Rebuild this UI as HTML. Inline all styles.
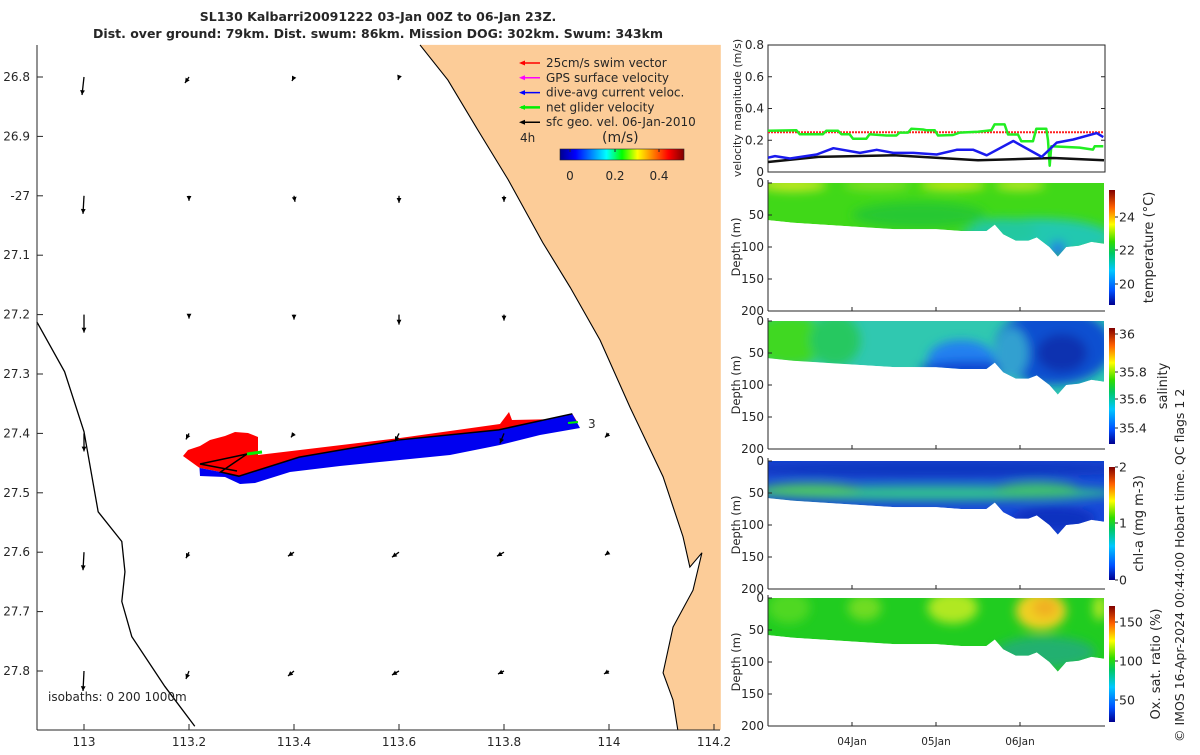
<!DOCTYPE html>
<html><head><meta charset="utf-8"><style>
body{margin:0;background:#fff;width:1200px;height:750px;overflow:hidden;font-family:"Liberation Sans",sans-serif}
svg text{font-family:"DejaVu Sans","Liberation Sans",sans-serif;fill:#262626}
</style></head><body>
<svg id="s" width="1200" height="750" xmlns="http://www.w3.org/2000/svg">
<defs>
<linearGradient id="jetH" x1="0" x2="1" y1="0" y2="0">
<stop offset="0" stop-color="#00008f"/><stop offset="0.125" stop-color="#0000ff"/><stop offset="0.375" stop-color="#00ffff"/><stop offset="0.5" stop-color="#00ff00"/><stop offset="0.625" stop-color="#ffff00"/><stop offset="0.875" stop-color="#ff0000"/><stop offset="1" stop-color="#800000"/></linearGradient>
<linearGradient id="jetV" x1="0" x2="0" y1="1" y2="0">
<stop offset="0" stop-color="#00008f"/><stop offset="0.125" stop-color="#0050ff"/><stop offset="0.3" stop-color="#00c8ff"/><stop offset="0.45" stop-color="#00c864"/><stop offset="0.55" stop-color="#30dc00"/><stop offset="0.7" stop-color="#ffff00"/><stop offset="0.85" stop-color="#ff6000"/><stop offset="1" stop-color="#800000"/></linearGradient>
<filter id="blur" x="-20%" y="-20%" width="140%" height="140%"><feGaussianBlur stdDeviation="5"/></filter>
</defs>
<g>
<text x="378" y="21" text-anchor="middle" font-size="12.5" font-weight="bold" fill="#000">SL130 Kalbarri20091222 03-Jan 00Z to 06-Jan 23Z.</text>
<text x="378" y="38" text-anchor="middle" font-size="12.5" font-weight="bold" fill="#000">Dist. over ground: 79km. Dist. swum: 86km. Mission DOG: 302km. Swum: 343km</text>
</g>
<g id="map"></g>
<g id="vel"></g>
<g id="sect"></g>
<text transform="translate(1184,742) rotate(-90)" font-size="12.5">© IMOS 16-Apr-2024 00:44:00 Hobart time. QC flags 1  2</text>
</svg>
<script>
const NS="http://www.w3.org/2000/svg";
function mk(p,tag,at,txt){const e=document.createElementNS(NS,tag);for(const k in at)e.setAttribute(k,at[k]);if(txt!==undefined)e.textContent=txt;p.appendChild(e);return e;}
// ---------- MAP data ----------
const lonTicks=[113,113.2,113.4,113.6,113.8,114,114.2];
const latTicks=[26.8,26.9,27,27.1,27.2,27.3,27.4,27.5,27.6,27.7,27.8];
const latTickLabels=["26.8","26.9","-27","27.1","27.2","27.3","27.4","27.5","27.6","27.7","27.8"];
const gridLons=[113,113.2,113.4,113.6,113.8,114];
const gridLats=[26.8,27.0,27.2,27.4,27.6,27.8];
const geoU=[[-0.02,-0.04,-0.02,-0.01,null,null],[-0.01,0,0.01,0,0,null],[0,0,0,0,0,null],[0,-0.03,-0.03,-0.04,-0.04,-0.04],[-0.01,-0.03,-0.06,-0.07,-0.07,-0.04],[-0.01,-0.03,-0.06,-0.07,-0.06,-0.05]];
const geoV=[[-0.18,-0.06,-0.04,-0.03,null,null],[-0.18,-0.05,-0.06,-0.07,-0.06,null],[-0.18,-0.04,-0.05,-0.1,-0.06,null],[-0.18,-0.06,-0.04,-0.08,-0.1,-0.04],[-0.18,-0.06,-0.04,-0.05,-0.04,-0.03],[-0.2,-0.08,-0.05,-0.04,-0.03,-0.03]];
const landLon=[113.64,113.693,113.75,113.808,113.874,113.926,113.983,114.04,114.103,114.141,114.154,114.177,114.16,114.122,114.103,114.122,114.131,114.213,114.213];
const landLat=[26.746,26.805,26.889,26.973,27.079,27.154,27.243,27.356,27.473,27.574,27.625,27.601,27.664,27.726,27.803,27.849,27.899,27.899,26.746];
const coastLon=[112.91,112.963,113,113.027,113.072,113.078,113.072,113.091,113.154,113.211];
const coastLat=[27.212,27.296,27.397,27.532,27.582,27.633,27.683,27.742,27.826,27.893];
const trackLon=[113.22,113.26,113.295,113.41,113.6,113.79,113.93];
const trackLat=[27.458,27.465,27.472,27.44,27.411,27.394,27.367];
const X=lon=>84+(lon-113)*525, Y=lat=>77+(lat-26.8)*594;
const mapG=document.getElementById('map');
const ml=37,mr=720,mt=45,mb=730;
let lp=landLon.map((l,i)=>X(l).toFixed(1)+','+Y(landLat[i]).toFixed(1)).join(' ');
let landEl=mk(mapG,'polygon',{points:lp,fill:'#fccc98',stroke:'none'});


mk(mapG,'polyline',{points:landLon.slice(0,17).map((l,i)=>X(l)+','+Y(landLat[i])).join(' '),fill:'none',stroke:'#000','stroke-width':1.1});
let cl=mk(mapG,'polyline',{points:coastLon.map((l,i)=>X(l)+','+Y(coastLat[i])).join(' '),fill:'none',stroke:'#000','stroke-width':1.3});


let trackPts=trackLon.map((l,i)=>[X(l),Y(trackLat[i])]);
let redPts='183,456 188,450 200,446 210,440 225,436 235,432 248,433 258,437 258,455 300,450 350,444 400,438 450,431 500,424 509,412 512,420 560,419 578,423 '+trackPts.slice().reverse().map(p=>p.join(',')).join(' ');
let rEl=mk(mapG,'polygon',{points:redPts,fill:'#ff0000'});


let bluePts=trackPts.map(p=>p.join(',')).join(' ')+' 580,428 540,435 500,445 450,455 400,460 340,466 290,472 255,483 240,484 225,477 200,476';
let bEl=mk(mapG,'polygon',{points:bluePts,fill:'#0000f0'});


let trEl=mk(mapG,'polyline',{points:'200,464 247,454 '+trackPts.slice(1).map(p=>p.join(',')).join(' '),fill:'none',stroke:'#000','stroke-width':1.5});


mk(mapG,'polyline',{points:'200,464 237,471',fill:'none',stroke:'#000','stroke-width':1.5});
mk(mapG,'line',{x1:247,y1:454,x2:262,y2:452,stroke:'#00ee00','stroke-width':3});
mk(mapG,'line',{x1:568,y1:423,x2:578,y2:422,stroke:'#00ee00','stroke-width':2});
mk(mapG,'text',{x:588,y:428,'font-size':12},'3');
gridLats.forEach((la,i)=>gridLons.forEach((lo,j)=>{const u=geoU[i][j],v=geoV[i][j];if(u===null)return;
 const x0=X(lo),y0=Y(la),x1=x0+u*100,y1=y0-v*100;
 const a=mk(mapG,'line',{x1:x0,y1:y0,x2:x1,y2:y1,stroke:'#000','stroke-width':1.3});
 
 
 const L=Math.hypot(x1-x0,y1-y0)||1,dx=(x1-x0)/L,dy=(y1-y0)/L,h=3;
 mk(mapG,'polygon',{points:`${x1},${y1} ${x1-dx*h*1.6-dy*h*0.8},${y1-dy*h*1.6+dx*h*0.8} ${x1-dx*h*1.6+dy*h*0.8},${y1-dy*h*1.6-dx*h*0.8}`,fill:'#000'});
}));
mk(mapG,'line',{x1:ml,y1:mt,x2:ml,y2:mb,stroke:'#262626'});mk(mapG,'line',{x1:ml,y1:mb,x2:mr,y2:mb,stroke:'#262626'});
lonTicks.forEach(l=>{const x=X(l);mk(mapG,'line',{x1:x,y1:mb,x2:x,y2:mb-6,stroke:'#262626'});const t=mk(mapG,'text',{x:x,y:746,'text-anchor':'middle','font-size':12},String(l));

});
latTicks.forEach((l,i)=>{const y=Y(l);mk(mapG,'line',{x1:ml,y1:y,x2:ml+6,y2:y,stroke:'#262626'});const t=mk(mapG,'text',{x:30,y:y+4,'text-anchor':'end','font-size':12},latTickLabels[i]);

});
mk(mapG,'text',{x:48,y:701,'font-size':12},'isobaths: 0   200   1000m');
const legLabels=['25cm/s swim vector','GPS surface velocity','dive-avg current veloc.','net glider velocity','sfc geo. vel. 06-Jan-2010'];
const legColors=['#ff0000','#ff00ff','#0000ff','#00ee00','#000000'];
legLabels.forEach((s,i)=>{const y=63+i*14.8;const g=mk(mapG,'g',{});


 mk(g,'line',{x1:521,y1:y,x2:540,y2:y,stroke:legColors[i],'stroke-width':i==3?2.5:1.5});
 mk(g,'polygon',{points:`519,${y} 525,${y-2.5} 525,${y+2.5}`,fill:legColors[i]});
 mk(g,'text',{x:546,y:y+4,'font-size':12},s);});
mk(mapG,'text',{x:520,y:142,'font-size':12},'4h');
mk(mapG,'text',{x:602,y:142,'font-size':14},'(m/s)');
const cbEl=mk(mapG,'rect',{x:560,y:149,width:124,height:11,fill:'url(#jetH)',stroke:'#262626','stroke-width':0.6});


[[0,570],[0.2,615],[0.4,659]].forEach(([v,x])=>{mk(mapG,'line',{x1:x,y1:149,x2:x,y2:152,stroke:'#262626'});mk(mapG,'text',{x:x,y:180,'text-anchor':'middle','font-size':12},v===0?'0':String(v));});

// ---------- VELOCITY chart ----------
const vx0=768,vx1=1105,vy0=172,vy1=45;
const TX=t=>vx0+t*84, VY=v=>vy0-v/0.8*(vy0-vy1);
const velTicks=[0,0.2,0.4,0.6,0.8];
const swimT=[0,4], swimV=[0.25,0.25];
const blueT=[0,0.083,0.262,0.579,0.778,1.095,1.294,1.492,1.73,2.008,2.246,2.444,2.603,2.92,3.258,3.437,3.635,3.913,3.992];
const blueV=[0.09,0.1,0.085,0.11,0.15,0.12,0.14,0.12,0.12,0.11,0.14,0.14,0.105,0.195,0.095,0.185,0.205,0.245,0.22];
const blackT=[0,0.6,1.5,2.0,2.5,3.0,3.4,4.0];
const blackV=[0.063,0.095,0.105,0.09,0.074,0.082,0.088,0.074];
const greenT=[0,0.337,0.377,0.655,0.694,0.833,0.873,0.972,1.012,1.17,1.21,1.409,1.528,1.567,1.667,1.706,1.845,1.885,1.984,2.024,2.202,2.282,2.5,2.659,2.698,2.817,2.857,2.976,3.016,3.155,3.194,3.313,3.333,3.353,3.373,3.71,3.869,3.889,3.992];
const greenV=[0.26,0.263,0.238,0.238,0.26,0.26,0.238,0.238,0.21,0.21,0.238,0.23,0.23,0.248,0.248,0.272,0.268,0.263,0.263,0.23,0.233,0.248,0.253,0.263,0.3,0.3,0.236,0.236,0.194,0.194,0.272,0.272,0.2,0.04,0.162,0.154,0.141,0.162,0.162];
const velG=document.getElementById('vel');
mk(velG,'rect',{x:vx0,y:vy1,width:vx1-vx0,height:vy0-vy1,fill:'#fff',stroke:'#262626'});
velTicks.forEach(v=>{const y=VY(v);mk(velG,'line',{x1:vx0,y1:y,x2:vx0+4,y2:y,stroke:'#262626'});mk(velG,'line',{x1:vx1,y1:y,x2:vx1-4,y2:y,stroke:'#262626'});
 const t=mk(velG,'text',{x:vx0-4,y:y+4,'text-anchor':'end','font-size':12},String(v));
 
 });
mk(velG,'text',{transform:'translate(741,108) rotate(-90)','text-anchor':'middle','font-size':11},'velocity magnitude (m/s)');
function drawLine(T,V,col,w,name,dash){const e=mk(velG,'polyline',{points:T.map((t,i)=>TX(t).toFixed(1)+','+VY(V[i]).toFixed(1)).join(' '),fill:'none',stroke:col,'stroke-width':w,'stroke-linejoin':'round'});if(dash)e.setAttribute('stroke-dasharray',dash);

}
drawLine(swimT,swimV,'#ff2020',2,'swim-speed-line','2 1');
drawLine(greenT,greenV,'#22ee22',2.5,'net-glider-speed-line');
drawLine(blackT,blackV,'#111',2.5,'geo-speed-line');
drawLine(blueT,blueV,'#1a1aee',2.5,'current-speed-line');

// ---------- DEPTH SECTIONS ----------
const profT=[0,0.3,1,1.5,2,2.3,2.6,2.7,2.8,2.95,3.1,3.2,3.35,3.45,3.55,3.7,3.85,4];
const profD=[58,62,68,72,72,75,75,65,80,90,90,85,100,115,100,98,92,95];
const depthTicks=[0,50,100,150,200];
const dateTicks=[1,2,3], dateLabels=['04Jan','05Jan','06Jan'];
const panels=[
 {y0:183,name:'temperature',label:'temperature (°C)',lx:1153,base:'#40d818',ticks:[[24,217],[22,250],[20,284]],cb:[190,305],
  blobs:[[0.3,3,0.4,10,'#c8e820'],[1.3,3,0.4,8,'#88e020'],[2.2,3,0.4,8,'#d0e818'],[3.0,3,0.3,8,'#c0e820'],[3.2,85,0.9,30,'#20c8b0'],[2.8,75,0.4,20,'#20c8a0'],[3.45,105,0.1,15,'#2080e0'],[1.8,50,0.8,20,'#28c830']]},
 {y0:321,name:'salinity',label:'salinity',lx:1167,base:'#30c8b0',ticks:[[36,334],[35.8,372],[35.6,399],[35.4,428]],cb:[328,444],
  blobs:[[0.25,30,0.45,40,'#40d820'],[0.8,30,0.3,40,'#28c860'],[2.3,60,0.4,30,'#2080f0'],[2.4,75,0.6,12,'#1040d0'],[3.4,40,0.7,60,'#1050d0'],[3.5,50,0.3,30,'#1030b0'],[2.9,50,0.2,40,'#30a0d0']]},
 {y0:461,name:'chlorophyll',label:'chl-a (mg m-3)',lx:1143,base:'#1848d8',ticks:[[2,467],[1,523],[0,580]],cb:[467,580],
  blobs:[[2,50,2.2,12,'#30c090'],[0.5,45,0.6,10,'#50c860'],[3.2,45,0.5,12,'#40c070'],[2,12,2.5,14,'#1038c0'],[3.4,90,0.5,20,'#1030c0']]},
 {y0:598,name:'oxygen',label:'Ox. sat. ratio (%)',lx:1160,base:'#20cc20',ticks:[[150,622],[100,661],[50,700]],cb:[606,722],
  blobs:[[0.25,15,0.25,25,'#50d820'],[1.15,15,0.2,20,'#70dc20'],[2.2,15,0.3,25,'#b0e820'],[3.25,20,0.3,30,'#f0d020'],[3.3,15,0.15,15,'#f0b020'],[3.3,85,0.6,25,'#20b070'],[3.95,15,0.08,20,'#b0e820']]}
];
const sectG=document.getElementById('sect');
const ph=128;
panels.forEach((p,k)=>{
 const g=mk(sectG,'g',{});
 
 
 const DY=d=>p.y0+d/200*ph;
 const poly=TX(0)+','+DY(0)+' '+TX(4)+','+DY(0)+' '+profT.slice().reverse().map((t,i)=>TX(t).toFixed(1)+','+DY(profD[profD.length-1-i]).toFixed(1)).join(' ');
 const cp=mk(g,'clipPath',{id:'cp'+k});mk(cp,'polygon',{points:poly});
 const inner=mk(g,'g',{'clip-path':'url(#cp'+k+')'});
 mk(inner,'polygon',{points:poly,fill:p.base});
 const bg=mk(inner,'g',{filter:'url(#blur)'});
 p.blobs.forEach(b=>mk(bg,'ellipse',{cx:TX(b[0]),cy:DY(b[1]),rx:b[2]*84,ry:b[3]/200*ph,fill:b[4]}));
 mk(g,'line',{x1:768,y1:p.y0-3,x2:768,y2:p.y0+ph,stroke:'#262626'});
 mk(g,'line',{x1:768,y1:p.y0+ph,x2:1105,y2:p.y0+ph,stroke:'#262626'});
 depthTicks.forEach(d=>{const y=DY(d);mk(g,'line',{x1:768,y1:y,x2:772,y2:y,stroke:'#262626'});mk(g,'text',{x:764,y:y+4,'text-anchor':'end','font-size':12},String(d));});
 dateTicks.forEach(t=>mk(g,'line',{x1:TX(t),y1:p.y0+ph,x2:TX(t),y2:p.y0+ph-4,stroke:'#262626'}));
 mk(g,'text',{transform:`translate(740,${p.y0+ph/2}) rotate(-90)`,'text-anchor':'middle','font-size':11.5},'Depth (m)');
 const c=mk(g,'rect',{x:1109,y:p.cb[0],width:6,height:p.cb[1]-p.cb[0],fill:'url(#jetV)'});
 
 
 p.ticks.forEach(([v,y])=>{mk(g,'line',{x1:1115,y1:y,x2:1118,y2:y,stroke:'#262626'});mk(g,'text',{x:1119,y:y+4.5,'font-size':12.5},String(v));});
 mk(g,'text',{transform:`translate(${p.lx},${(p.cb[0]+p.cb[1])/2}) rotate(-90)`,'text-anchor':'middle','font-size':13},p.label);
});
dateTicks.forEach((t,i)=>{mk(sectG,'text',{x:TX(t),y:745,'text-anchor':'middle','font-size':10.5},dateLabels[i]);});
</script>
</body></html>
